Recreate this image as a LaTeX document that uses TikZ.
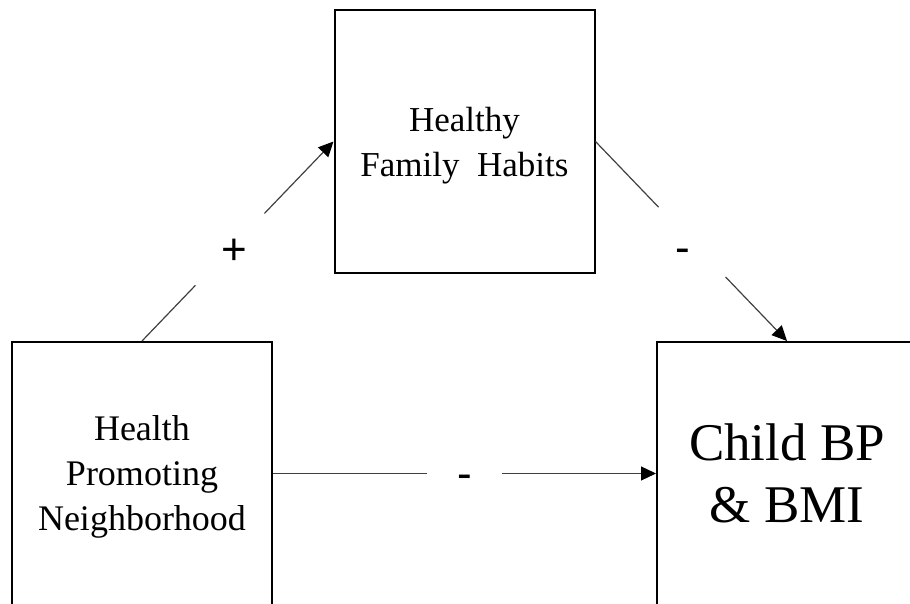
\documentclass[tikz,border=0pt]{standalone}
\usepackage{fontspec}
\setmainfont{Liberation Serif}
\setsansfont{Liberation Sans}
\usepackage{tikz}
\usetikzlibrary{positioning,calc,arrows.meta}
\def\BoxWidth{260pt}
\def\BoxHeight{263pt}
\def\BoxGap{383pt}

\begin{document}
\begin{tikzpicture}[x=1pt,y=1pt,
		box/.style={draw,line width=2pt,minimum width=\BoxWidth,minimum height=\BoxHeight,inner sep=0pt,align=center,text depth=0pt,font=\fontsize{35}{45}\selectfont},
		link/.style={draw=black!75,line width=1.2pt,-{Triangle[length=15pt,width=14pt,color=black]}},
		sign/.style={circle,fill=white,inner sep=0pt,minimum size=#1,font=\sffamily\fontsize{44}{44}\selectfont,text height=23pt,text depth=0pt},
		sign/.default=100pt]
	\clip (0,0) rectangle (910,604);
	\node[box,font=\fontsize{36}{45}\selectfont] (hpn) at (142,130.5) {Health\\Promoting\\Neighborhood};
	\node[box,right=\BoxGap of hpn,font=\fontsize{53}{62}\selectfont] (child) {Child BP\\\& BMI};
	\node[box] (fam) at ($(hpn)!0.5!(child)+(0,332)$) {Healthy\\Family\ \ Habits};
	% 
	\draw[link] (hpn.north) -- (fam.west);
	\draw[link] (fam.east) -- (child.north);
	\draw[link] (hpn.east) -- (child.west);
	% the signs sit on the links and blank out a piece of them
	\node[sign] (plus) at ($(hpn.north)!0.48!(fam.west)+(0,-8)$) {+};
	\node[sign] (minusfam) at ($(fam.east)!0.455!(child.north)+(0,-19)$) {-};
	\node[sign=75pt] (minusdirect) at ($(hpn.east)!0.5!(child.west)+(0,-3.5)$) {-};
\end{tikzpicture}
\end{document}
